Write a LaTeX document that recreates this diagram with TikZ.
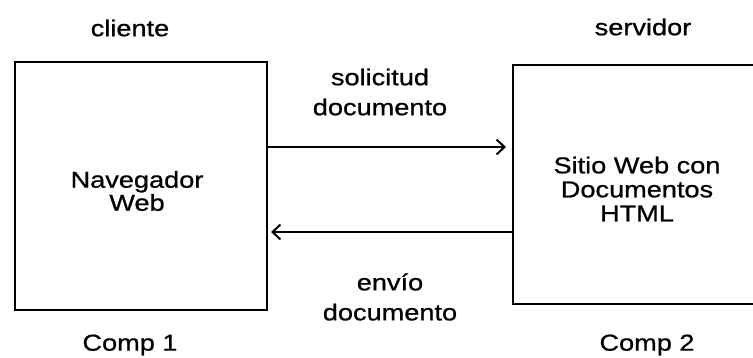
\documentclass[tikz,border=0pt]{standalone}
\usepackage{fontspec}
\setmainfont[FakeStretch=1.18,FakeBold=0.8]{Liberation Sans}
\usetikzlibrary{arrows.meta}
\begin{document}
\begin{tikzpicture}[x=1pt,y=-1pt,
  box/.style={draw=black,line width=2.4pt,rectangle,inner sep=0pt},
  lbl/.style={font=\fontsize{23}{26}\selectfont,inner sep=0pt,text=black},
  conn/.style={draw=black,line width=2.2pt,-{Straight Barb[length=8pt,width=15pt,line width=2pt]}}]
\useasboundingbox (0,0) rectangle (753,358);
\fill[white] (0,0) rectangle (753,358);
% boxes
\node[box,minimum width=252pt,minimum height=248pt] (comp1) at (141,186) {};
\node[box,minimum width=242pt,minimum height=239pt,anchor=north west] (comp2) at (512,64) {};
% box texts
\node[lbl,align=center] (nav) at (137,191) {Navegador\\[-3pt]Web};
\node[lbl,align=center] (sitio) at (637,189) {Sitio Web con\\[-2pt]Documentos\\[-2pt]HTML};
% headings
\node[lbl] (cli) at (130,28) {cliente};
\node[lbl] (serv) at (643,27) {servidor};
\node[lbl] (c1) at (130,345) {Comp 1};
\node[lbl] (c2) at (647,345) {Comp 2};
% arrow labels
\node[lbl,align=center] (sol) at (380,92) {solicitud\\[4pt]documento};
\node[lbl,align=center] (env) at (390,297) {envío\\[4pt]documento};
% connectors
\coordinate (t1) at (506,147);
\coordinate (t2) at (271,232);
\draw[conn] (comp1.east |- t1) -- (t1);
\draw[conn] (comp2.west |- t2) -- (t2);
\end{tikzpicture}
\end{document}
